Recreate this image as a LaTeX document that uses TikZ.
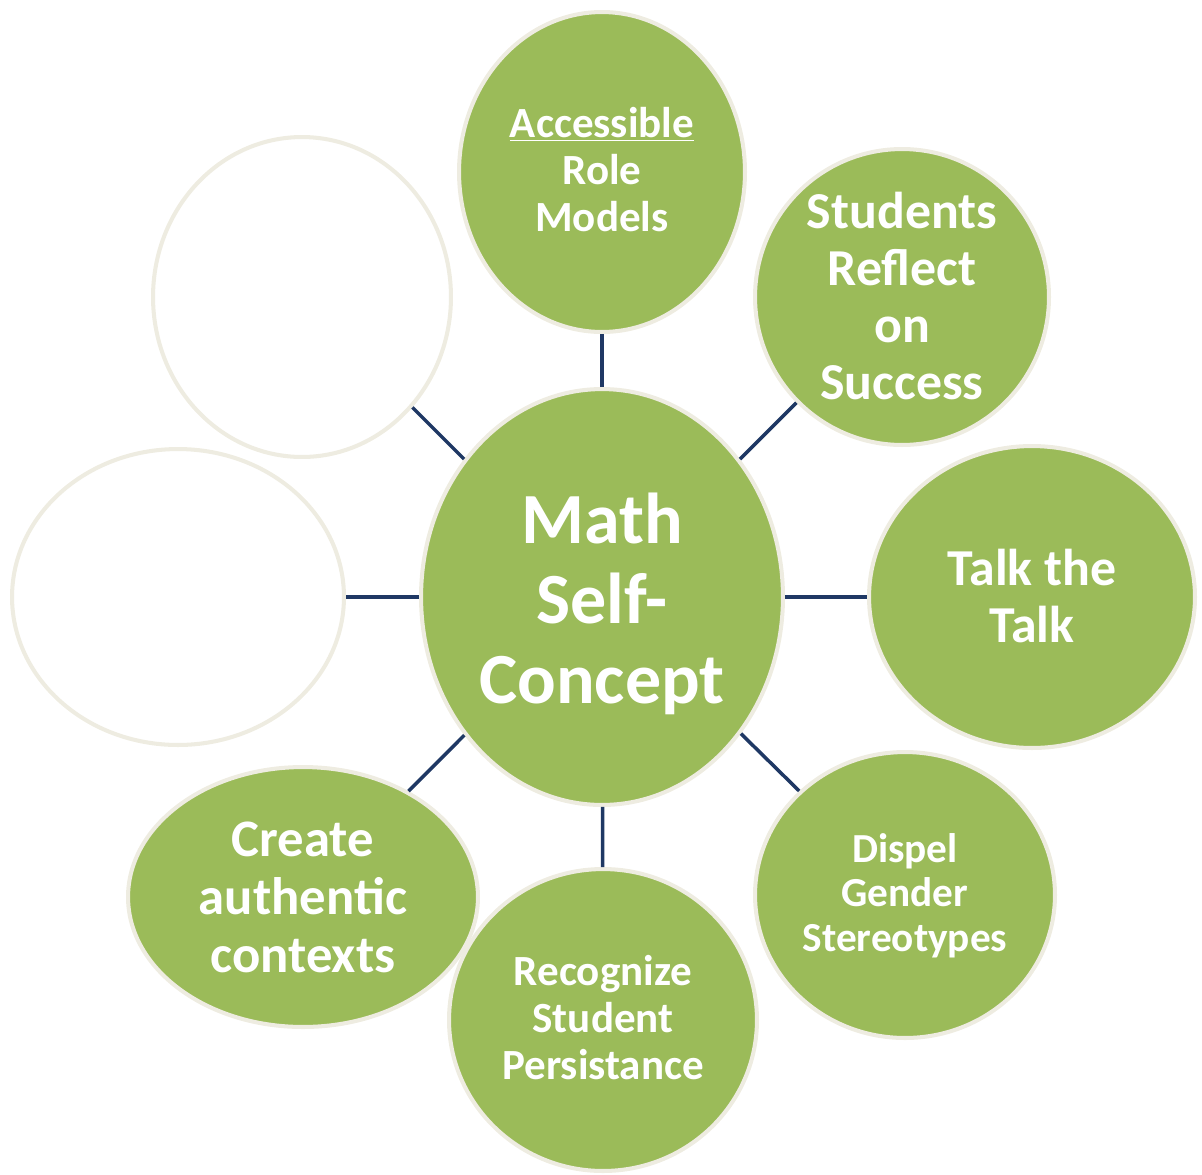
\documentclass[tikz,border=0pt]{standalone}
\usepackage{fontspec}
\setmainfont{Carlito}
\usetikzlibrary{shapes.geometric}
\definecolor{bubblegreen}{HTML}{9BBB59}
\definecolor{bubbleedge}{HTML}{EEECE1}
\definecolor{linknavy}{HTML}{1F3864}
\newcommand{\bubtext}[1]{\makebox[0pt]{\raisebox{\dimexpr-0.25em-2pt\relax}[0pt][0pt]{\begin{tabular}{@{}c@{}}#1\end{tabular}}}}
\begin{document}
\begin{tikzpicture}[x=0.02cm,y=-0.02cm,
  bubble/.style={ellipse,draw=bubbleedge,line width=2.3pt,fill=bubblegreen,text=white,font=\bfseries,inner sep=0pt},
  emptybubble/.style={ellipse,draw=bubbleedge,line width=2.3pt,fill=white,inner sep=0pt},
  link/.style={draw=linknavy,line width=2pt}]
\useasboundingbox (0,0) rectangle (1202,1174);
\begin{scope}
\node (MSC) at (602,597) [bubble,minimum width=7.24cm,minimum height=8.32cm] {\fontsize{41}{45.4}\selectfont\bubtext{Math\\ Self-\\ Concept}};
\node (ARM) at (602,172) [bubble,minimum width=5.72cm,minimum height=6.4cm] {\fontsize{24.5}{26.6}\selectfont\bubtext{\underline{Accessible}\\ Role\\ Models}};
\node (SRS) at (902,297) [bubble,minimum width=5.88cm,minimum height=5.92cm] {\fontsize{29.5}{32.5}\selectfont\bubtext{Students\\ Reflect\\ on\\ Success}};
\node (TT) at (1032,597) [bubble,minimum width=6.52cm,minimum height=6.04cm] {\fontsize{29.5}{32.5}\selectfont\bubtext{Talk the\\ Talk}};
\node (DGS) at (905,895) [bubble,minimum width=6.0cm,minimum height=5.72cm] {\fontsize{23.5}{25.2}\selectfont\bubtext{Dispel\\ Gender\\ Stereotypes}};
\node (RSP) at (603,1020) [bubble,minimum width=6.16cm,minimum height=6.04cm] {\fontsize{24.5}{26.6}\selectfont\bubtext{Recognize\\ Student\\ Persistance}};
\node (CAC) at (303,897) [bubble,minimum width=7.0cm,minimum height=5.2cm] {\fontsize{30}{33}\selectfont\bubtext{Create\\ authentic\\ contexts}};
\node (EL) at (178,597) [emptybubble,minimum width=6.64cm,minimum height=5.92cm] {};
\node (EUL) at (302,297) [emptybubble,minimum width=5.96cm,minimum height=6.4cm] {};
\draw[link] (MSC) -- (ARM);
\draw[link] (MSC) -- (SRS);
\draw[link] (MSC) -- (TT);
\draw[link] (MSC) -- (DGS);
\draw[link] (MSC) -- (RSP);
\draw[link] (MSC) -- (CAC);
\draw[link] (MSC) -- (EL);
\draw[link] (MSC) -- (EUL);
\end{scope}
\end{tikzpicture}
\end{document}
